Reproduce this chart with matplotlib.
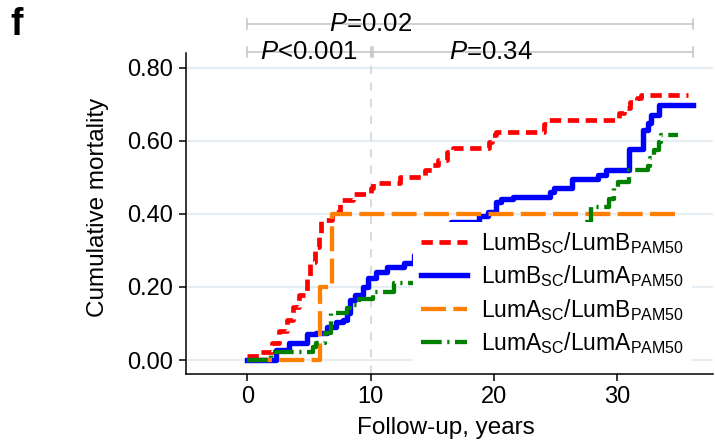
import numpy as np
import matplotlib
matplotlib.use("Agg")
import matplotlib.pyplot as plt

plt.rcParams['font.family'] = ['Liberation Sans', 'DejaVu Sans']
plt.rcParams['mathtext.fontset'] = 'custom'
plt.rcParams['mathtext.rm'] = 'Liberation Sans'
plt.rcParams['mathtext.it'] = 'Liberation Sans:italic'
plt.rcParams['mathtext.bf'] = 'Liberation Sans:bold'

# ---- data (cumulative mortality step curves) ----
t_bb = [0, 1.0, 2.0, 2.6, 3.2, 3.7, 4.2, 4.8, 5.1, 5.5, 5.8, 6.0, 6.9, 7.5, 8.6, 10.0, 10.2,
        12.4, 14.4, 15.0, 15.5, 16.2, 16.7, 19.6, 19.9, 20.2, 24.1, 24.5, 30.2, 30.6, 31.1,
        31.6, 32.0, 35.8]
v_bb = [0.01, 0.023, 0.046, 0.08, 0.11, 0.145, 0.178, 0.228, 0.269, 0.31, 0.342, 0.384,
        0.406, 0.438, 0.455, 0.47, 0.485, 0.50, 0.52, 0.535, 0.548, 0.57, 0.58, 0.598, 0.616,
        0.625, 0.645, 0.657, 0.676, 0.69, 0.705, 0.718, 0.726, 0.726]

t_ba = [0, 2.3, 3.4, 4.8, 5.6, 6.5, 7.2, 7.8, 8.05, 8.3, 8.7, 9.4, 9.8, 10.4, 11.3, 12.7,
        13.5, 14.2, 15.0, 15.8, 16.5, 18.8, 19.5, 20.2, 20.6, 21.6, 24.6, 24.9, 26.4, 28.5,
        29.1, 31.0, 32.1, 32.5, 32.8, 33.4, 36.2]
v_ba = [0, 0.027, 0.046, 0.07, 0.074, 0.09, 0.104, 0.11, 0.128, 0.164, 0.178, 0.20, 0.224,
        0.24, 0.255, 0.265, 0.288, 0.31, 0.33, 0.355, 0.379, 0.393, 0.405, 0.433, 0.44, 0.447,
        0.461, 0.471, 0.495, 0.507, 0.52, 0.578, 0.63, 0.649, 0.671, 0.699, 0.699]

t_ab = [0, 5.9, 6.9, 35.3]
v_ab = [0, 0.20, 0.40, 0.40]

t_aa = [0, 1.9, 5.3, 5.6, 6.3, 6.8, 8.05, 8.3, 9.1, 10.2, 11.9, 14.5, 17.0, 19.5, 22.0,
        24.5, 26.5, 27.3, 27.9, 29.4, 29.8, 30.1, 31.0, 32.5, 32.7, 33.0, 33.4, 33.6, 35.0]
v_aa = [0, 0.022, 0.036, 0.046, 0.074, 0.128, 0.142, 0.15, 0.168, 0.186, 0.21, 0.23, 0.26,
        0.28, 0.30, 0.32, 0.35, 0.377, 0.42, 0.44, 0.474, 0.488, 0.52, 0.53, 0.553, 0.575,
        0.598, 0.616, 0.616]

labels = [r'LumB$_{\mathrm{SC}}$/LumB$_{\mathrm{PAM50}}$',
          r'LumB$_{\mathrm{SC}}$/LumA$_{\mathrm{PAM50}}$',
          r'LumA$_{\mathrm{SC}}$/LumB$_{\mathrm{PAM50}}$',
          r'LumA$_{\mathrm{SC}}$/LumA$_{\mathrm{PAM50}}$']

fig = plt.figure(figsize=(7.15, 4.43), dpi=100)
ax = fig.add_axes([0.260, 0.156, 0.737, 0.725])

# grid
for g in [0, 0.2, 0.4, 0.6, 0.8]:
    ax.axhline(g, color='#e6edf2', lw=1.6, zorder=0)
ax.axvline(10, color='#d3d3d3', lw=1.2, ls=(0, (5, 5)), zorder=0.5)

ax.step(t_bb, v_bb, where='post', color='#ff0000', lw=3.4, ls=(0, (2.4, 1.4)), label=labels[0])
ax.step(t_ba, v_ba, where='post', color='#0000ff', lw=3.9, ls='-', label=labels[1])
ax.step(t_ab, v_ab, where='post', color='#ff8000', lw=3.1, ls=(0, (5.8, 1.7)), label=labels[2])
ax.step(t_aa, v_aa, where='post', color='#008000', lw=3.1, ls=(0, (4.8, 1.3, 0.5, 1.3)), label=labels[3])

ax.set_xlim(-5, 37.8)
ax.set_ylim(-0.038, 0.841)
ax.set_xticks([0, 10, 20, 30])
ax.set_yticks([0, 0.2, 0.4, 0.6, 0.8])
ax.set_yticklabels(['0.00', '0.20', '0.40', '0.60', '0.80'])
ax.tick_params(direction='out', length=5, width=1.1, labelsize=17, pad=4)
for s in ['top', 'right']:
    ax.spines[s].set_visible(False)
for s in ['left', 'bottom']:
    ax.spines[s].set_linewidth(1.1)

ax.set_xlabel('Follow-up, years', fontsize=17.5)
ax.xaxis.set_label_coords(0.493, -0.135)
ax.set_ylabel('Cumulative mortality', fontsize=17.5)
ax.yaxis.set_label_coords(-0.145, 0.52)

leg = ax.legend(loc='lower right', bbox_to_anchor=(0.96, 0.03), fontsize=16.5, frameon=True,
                facecolor='white', edgecolor='none', framealpha=1, handlelength=2.0,
                handletextpad=0.6, labelspacing=0.33, borderpad=0.35, borderaxespad=0)

# p-value brackets above the plot
gray = '#c4c4c4'
brackets = [(0, 36.2, 0.92), (0, 10.0, 0.844), (10.2, 36.2, 0.844)]
for x0, x1, yb in brackets:
    ax.plot([x0, x1], [yb, yb], color=gray, lw=1.1, clip_on=False)
    for xe in (x0, x1):
        ax.plot([xe, xe], [yb - 0.014, yb + 0.014], color=gray, lw=1.1, clip_on=False)
ax.text(10, 0.92, r'$\it{P}$=0.02', fontsize=18.5, ha='center', va='center')
ax.text(5, 0.844, r'$\it{P}$<0.001', fontsize=18.5, ha='center', va='center')
ax.text(19.8, 0.844, r'$\it{P}$=0.34', fontsize=18.5, ha='center', va='center')

fig.text(0.014, 0.985, 'f', fontsize=27, fontweight='bold', va='top', ha='left')

fig.savefig('out.png', dpi=100)
